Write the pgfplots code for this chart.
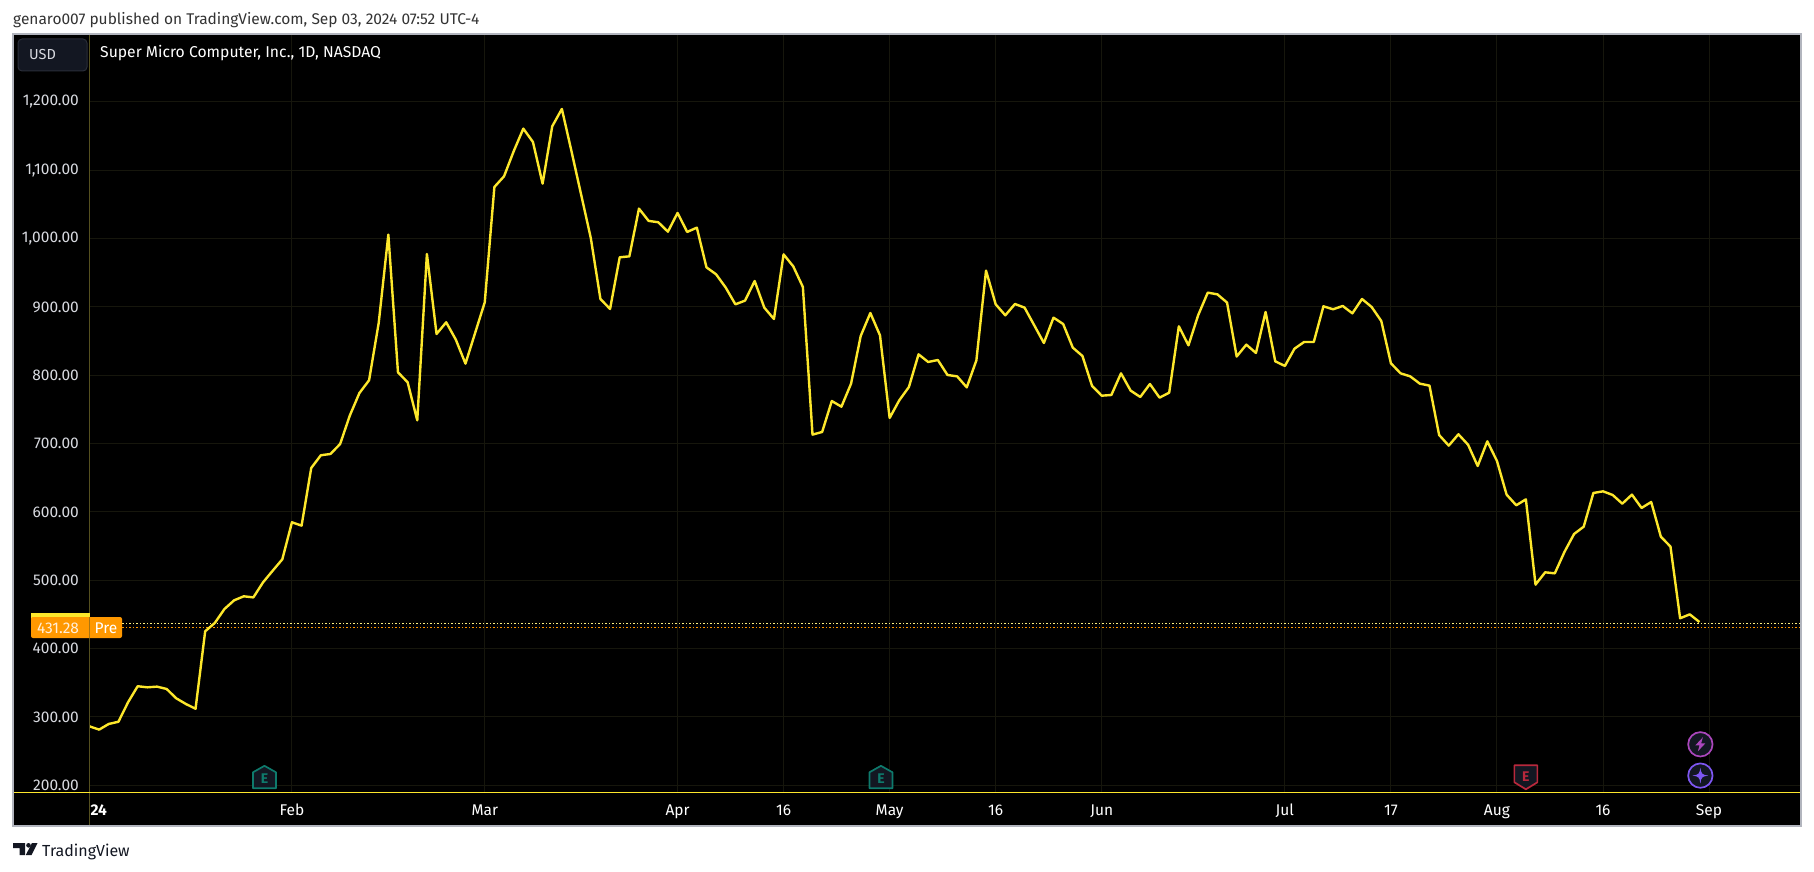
\documentclass[border=0pt]{standalone}
\usepackage{pgfplots}
\pgfplotsset{compat=1.18}
\usepackage{fontspec}
\setmainfont{Fira Sans}
\definecolor{tvyellow}{HTML}{FDE72B}
\definecolor{gridc}{HTML}{16160C}
\definecolor{yearc}{HTML}{55501F}
\definecolor{ticktxt}{HTML}{D8DAE0}
\definecolor{framec}{HTML}{B2B5BE}
\definecolor{btnfill}{HTML}{131722}
\definecolor{btnline}{HTML}{2A2E39}
\definecolor{orangec}{HTML}{FF9800}
\definecolor{tealc}{HTML}{0E7A6C}
\definecolor{redc}{HTML}{B8283C}
\definecolor{purplec}{HTML}{AB47BC}
\definecolor{violetc}{HTML}{7E57F2}
\newcommand{\fs}[1]{\fontsize{#1}{#1}\selectfont}
\begin{document}
\begin{tikzpicture}
\useasboundingbox (0,0) rectangle (1814pt,871pt);
\fill[white] (0,0) rectangle (1814pt,871pt);
\begin{scope}[x=1pt,y=-1pt,shift={(0pt,871pt)}]
\fill[black] (13,34) rectangle (1801,826);
\end{scope}
\begin{axis}[
  at={(89.5pt,79pt)}, anchor=south west,
  scale only axis, width=1711.5pt, height=758pt,
  xmin=0, xmax=177.54, ymin=190.2, ymax=1299.5,
  axis line style={draw=none},
  major tick length=0pt,
  xmajorgrids, ymajorgrids,
  grid style={gridc, line width=1pt},
  ytick={200,300,400,500,600,700,800,900,1000,1100,1200},
  scaled y ticks=false,
  yticklabel style={/pgf/number format/fixed, /pgf/number format/fixed zerofill,
    /pgf/number format/precision=2, /pgf/number format/1000 sep={,},
    /pgf/number format/assume math mode=true,
    font=\fs{15.5}, text=ticktxt, anchor=east, inner sep=0pt, xshift=-10.5pt},
  xtick={0,21,41,61,72,83,94,105,124,135,146,157,168},
  xticklabels={\makebox[0pt][l]{\hspace{1pt}\textbf{24}},Feb,Mar,Apr,16,May,16,Jun,Jul,17,Aug,16,Sep},
  xticklabel style={font=\fs{15.5}, text=white, anchor=base, inner sep=0pt, yshift=-23pt},
  clip=false,
]
\addplot[tvyellow!60!white, line width=0.9pt, dash pattern=on 1.3pt off 2.2pt] coordinates {(3.4,437) (177.54,437)};
\addplot[orangec, line width=0.9pt, dash pattern=on 1.3pt off 2.2pt] coordinates {(3.4,431.28) (177.54,431.28)};
\addplot[tvyellow, line width=2.4pt, line join=round] coordinates {
(0,286.3)(1,281.5)(2,289.8)(3,293)(4,321.5)(5,345)(6,343.4)(7,344.4)(8,341)(9,327.3)
(10,319)(11,312)(12,425.4)(13,437.6)(14,458)(15,470.7)(16,476.6)(17,475)(18,497)(19,514)
(20,530.7)(21,584.9)(22,580)(23,664.4)(24,683)(25,684.9)(26,699.5)(27,741)(28,774.1)(29,792.7)
(30,876.6)(31,1005.9)(32,804.4)(33,789.8)(34,734.1)(35,977.6)(36,860.5)(37,877.6)(38,852.2)(39,817.1)
(40,861.9)(41,906.8)(42,1075.6)(43,1091.2)(44,1127.8)(45,1161)(46,1141.5)(47,1080.5)(48,1164.4)(49,1189.8)
(50,1127.8)(51,1064.4)(52,1001)(53,911.7)(54,897.1)(55,972.7)(56,974.1)(57,1043.9)(58,1026)(59,1024)
(60,1010.2)(61,1037.6)(62,1009.8)(63,1016.1)(64,958)(65,947.8)(66,928.3)(67,903.9)(68,909.3)(69,938)
(70,899)(71,882.4)(72,977)(73,959.5)(74,929.3)(75,713.2)(76,717.1)(77,762.4)(78,754.1)(79,787.8)
(80,857.6)(81,891.2)(82,858.5)(83,737.6)(84,763.4)(85,782.9)(86,830.7)(87,819.5)(88,822.4)(89,800.5)
(90,798.5)(91,782.4)(92,821.9)(93,953.2)(94,903.9)(95,887.8)(96,904.4)(97,899)(98,873.2)(99,847.3)
(100,884.4)(101,875.1)(102,840.5)(103,828.3)(104,784.4)(105,770.2)(106,771.2)(107,802.9)(108,777.6)(109,768.3)
(110,787.3)(111,767.3)(112,774.6)(113,871.7)(114,843.9)(115,887.8)(116,921)(117,918.5)(118,906.5)(119,827.5)
(120,844.9)(121,832.7)(122,892.7)(123,820.5)(124,813.7)(125,839)(126,848.8)(127,848.8)(128,901)(129,896.6)
(130,901.5)(131,890.7)(132,911.7)(133,900)(134,879.5)(135,817.6)(136,802.9)(137,798.5)(138,787.8)(139,784.9)
(140,712.7)(141,697.1)(142,713.7)(143,698.5)(144,667.3)(145,703.4)(146,674.6)(147,625.4)(148,609.8)(149,618.5)
(150,493.7)(151,511.7)(152,510.2)(153,541.5)(154,567.8)(155,578.5)(156,627.8)(157,630.2)(158,624.9)(159,612.2)
(160,625.4)(161,605.9)(162,614.6)(163,563.9)(164,549.3)(165,444.4)(166,450.2)(167,439)
};
\coordinate (E1) at (axis cs:18.15,200);
\coordinate (E2) at (axis cs:82.1,200);
\coordinate (E3) at (axis cs:149,200);
\coordinate (C1) at (axis cs:167.1,260);
\coordinate (C2) at (axis cs:167.1,214.2);
\end{axis}
\begin{scope}[x=1pt,y=-1pt,shift={(0pt,871pt)}]
% year line, frame, bottom rule
\draw[yearc, line width=1pt] (89.5,34) -- (89.5,826);
\draw[tvyellow, line width=1pt] (13,792) -- (1801,792);
\draw[framec, line width=1.3pt] (13,34) rectangle (1801,826);
% header texts
\node[anchor=base west, inner sep=0pt, text=black!80] at (13,25) {\fs{15.5}genaro007 published on TradingView.com, Sep 03, 2024 07:52 UTC-4};
\node[anchor=base west, inner sep=0pt, text=white] at (100,58) {\fs{15.7}Super Micro Computer, Inc., 1D, NASDAQ};
% USD button
\draw[btnline, fill=btnfill, line width=1pt, rounded corners=4pt] (18,39) rectangle (87,71);
\node[anchor=base, inner sep=0pt, text=ticktxt] at (42.5,60) {\fs{14.5}USD};
% price label
\fill[tvyellow] (31,613) rectangle (90,620);
\fill[orangec, rounded corners=2pt] (31,617) rectangle (122,638);
\draw[yearc!50!orangec, line width=0.8pt] (89.5,617) -- (89.5,638);
\node[anchor=base, inner sep=0pt, text=white!85!orangec] at (58,633) {\fs{15.5}431.28};
\node[anchor=base, inner sep=0pt, text=white] at (106,633) {\fs{15.5}Pre};
% footer logo
\fill[btnfill] (13,843) -- (25,843) -- (25,855) -- (19.5,855) -- (19.5,848) -- (13,848) -- cycle;
\fill[btnfill] (28.5,845.3) circle (2.3);
\fill[btnfill] (32,843) -- (37.5,843) -- (31.5,855) -- (25.8,855) -- cycle;
\node[anchor=base west, inner sep=0pt, text=btnfill] at (42,856.5) {\fs{16}TradingView};
\end{scope}
% event badges
\begin{scope}[shift={(E1)}, x=1pt, y=-1pt]
\draw[tealc, fill=btnfill, line width=1.7pt, line join=round] (-11.5,3) -- (-11.5,-13) -- (0,-19.5) -- (11.5,-13) -- (11.5,3) -- cycle;
\node[inner sep=0pt, text=tealc] at (0,-7) {\fs{14}\textbf{E}};
\end{scope}
\begin{scope}[shift={(E2)}, x=1pt, y=-1pt]
\draw[tealc, fill=btnfill, line width=1.7pt, line join=round] (-11.5,3) -- (-11.5,-13) -- (0,-19.5) -- (11.5,-13) -- (11.5,3) -- cycle;
\node[inner sep=0pt, text=tealc] at (0,-7) {\fs{14}\textbf{E}};
\end{scope}
\begin{scope}[shift={(E3)}, x=1pt, y=-1pt]
\draw[redc, fill=btnfill, line width=1.7pt, line join=round] (-11.5,-20) -- (-11.5,-3) -- (0,4) -- (11.5,-3) -- (11.5,-20) -- cycle;
\node[inner sep=0pt, text=redc] at (0,-9) {\fs{14}\textbf{E}};
\end{scope}
\begin{scope}[shift={(C1)}, x=1pt, y=-1pt]
\draw[purplec, fill=btnfill, line width=1.7pt] (0,0) circle (12.2);
\fill[purplec] (2.5,-7) -- (-5,1) -- (-0.8,1) -- (-2.5,7) -- (5,-1) -- (0.8,-1) -- cycle;
\end{scope}
\begin{scope}[shift={(C2)}, x=1pt, y=-1pt]
\draw[violetc, fill=btnfill, line width=1.7pt] (0,0) circle (12.2);
\fill[violetc] (0,-8) .. controls (0.8,-1.8) and (1.5,-0.8) .. (8,0) .. controls (1.5,0.8) and (0.8,1.8) .. (0,8) .. controls (-0.8,1.8) and (-1.5,0.8) .. (-8,0) .. controls (-1.5,-0.8) and (-0.8,-1.8) .. cycle;
\end{scope}
\end{tikzpicture}
\end{document}
